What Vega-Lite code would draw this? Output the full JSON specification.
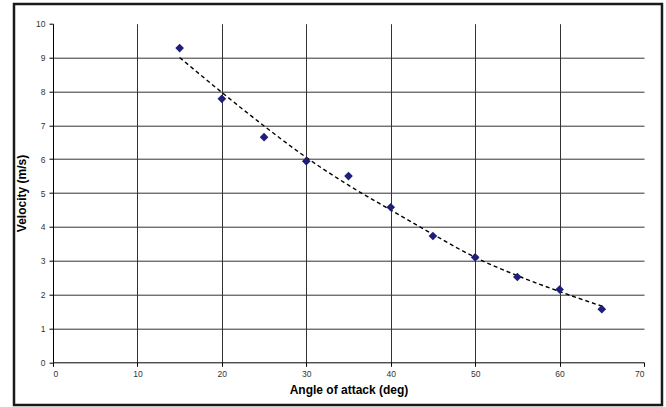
{
  "$schema": "https://vega.github.io/schema/vega-lite/v6.json",
  "width": 591,
  "height": 338.6,
  "autosize": {"type": "none"},
  "padding": {"left": 53, "top": 23.7, "right": 22, "bottom": 44.7},
  "background": "white",
  "config": {
    "view": {"stroke": null},
    "font": "Liberation Sans",
    "axis": {
      "labelFont": "Liberation Sans",
      "titleFont": "Liberation Sans",
      "labelFontSize": 8.5,
      "labelColor": "#333333",
      "labelOverlap": false,
      "titleFontSize": 12,
      "titleFontWeight": "bold",
      "titleColor": "#000000",
      "domainColor": "#000000",
      "tickColor": "#000000",
      "tickSize": 4,
      "gridColor": "#333333",
      "gridWidth": 1
    }
  },
  "datasets": {
    "points": [
      {"angle": 15, "velocity": 9.28},
      {"angle": 20, "velocity": 7.78},
      {"angle": 25, "velocity": 6.65},
      {"angle": 30, "velocity": 5.94},
      {"angle": 35, "velocity": 5.5},
      {"angle": 40, "velocity": 4.58},
      {"angle": 45, "velocity": 3.73},
      {"angle": 50, "velocity": 3.1},
      {"angle": 55, "velocity": 2.52},
      {"angle": 60, "velocity": 2.15},
      {"angle": 65, "velocity": 1.57}
    ],
    "trend": [
      {"angle": 15, "velocity": 9.0},
      {"angle": 20, "velocity": 7.97},
      {"angle": 25, "velocity": 6.98},
      {"angle": 30, "velocity": 6.05},
      {"angle": 35, "velocity": 5.23},
      {"angle": 40, "velocity": 4.5},
      {"angle": 45, "velocity": 3.78},
      {"angle": 50, "velocity": 3.1},
      {"angle": 55, "velocity": 2.56},
      {"angle": 60, "velocity": 2.09},
      {"angle": 65, "velocity": 1.66}
    ],
    "frame": [
      {"x0": -4.62, "x1": 72.13, "y0": -1.26, "y1": 10.58}
    ]
  },
  "layer": [
    {
      "data": {"name": "trend"},
      "mark": {"type": "line", "color": "#000000", "strokeWidth": 1.4, "strokeDash": [4, 3], "interpolate": "monotone"},
      "encoding": {
        "x": {
          "field": "angle", "type": "quantitative",
          "scale": {"domain": [0, 70], "nice": false, "zero": false},
          "axis": {
            "title": "Angle of attack (deg)",
            "values": [0, 10, 20, 30, 40, 50, 60, 70],
            "tickCount": 8,
            "labelPadding": 3,
            "titlePadding": 7,
            "gridOpacity": {"condition": {"test": "datum.value == 70 || datum.value == 0", "value": 0}, "value": 1}
          }
        },
        "y": {
          "field": "velocity", "type": "quantitative",
          "scale": {"domain": [0, 10], "nice": false, "zero": false},
          "axis": {
            "title": "Velocity (m/s)",
            "values": [0, 1, 2, 3, 4, 5, 6, 7, 8, 9, 10],
            "tickCount": 11,
            "labelPadding": 4,
            "titlePadding": 7,
            "gridOpacity": {"condition": {"test": "datum.value == 10 || datum.value == 0", "value": 0}, "value": 1}
          }
        }
      }
    },
    {
      "data": {"name": "points"},
      "mark": {"type": "point", "shape": "diamond", "filled": true, "color": "#1f1f7a", "size": 75, "opacity": 1},
      "encoding": {
        "x": {"field": "angle", "type": "quantitative"},
        "y": {"field": "velocity", "type": "quantitative"}
      }
    },
    {
      "data": {"name": "frame"},
      "mark": {"type": "rect", "fill": null, "stroke": "#1a1a1a", "strokeWidth": 2.5, "clip": false},
      "encoding": {
        "x": {"field": "x0", "type": "quantitative"},
        "x2": {"field": "x1"},
        "y": {"field": "y0", "type": "quantitative"},
        "y2": {"field": "y1"}
      }
    }
  ]
}
